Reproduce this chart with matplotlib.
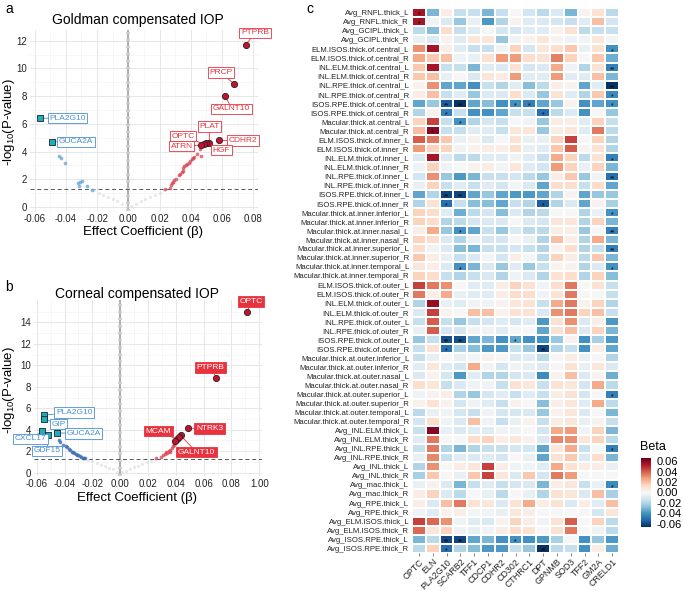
import numpy as np
import matplotlib
matplotlib.use('Agg')
import matplotlib.pyplot as plt

plt.rcParams['font.family'] = ['Liberation Sans', 'DejaVu Sans']
plt.rcParams['mathtext.fontset'] = 'custom'
plt.rcParams['mathtext.rm'] = 'Liberation Sans'
plt.rcParams['mathtext.it'] = 'Liberation Sans:italic'

# ---------------- Panel a data (Goldman compensated IOP) ----------------
a_pos_genes = ['PTPRB', 'PRCP', 'GALNT10', 'CDHR2', 'PLAT', 'HGF', 'OPTC', 'ATRN']
a_pos_beta = [0.0753, 0.0678, 0.0622, 0.0582, 0.0519, 0.0496, 0.0486, 0.0466]
a_pos_logp = [11.7, 8.87, 8.0, 4.81, 4.63, 4.63, 4.54, 4.45]
a_pos_tx = [0.0812, 0.0594, 0.0662, 0.0735, 0.052, 0.0597, 0.0351, 0.0341]
a_pos_ty = [12.56, 9.70, 7.09, 4.79, 5.8, 4.1, 5.12, 4.4]
a_neg_genes = ['PLA2G10', 'GUCA2A']
a_neg_beta = [-0.0566, -0.0487]
a_neg_logp = [6.4, 4.71]
a_neg_tx = [-0.039, -0.0335]
a_neg_ty = [6.42, 4.69]
a_up_beta = [0.0235, 0.0267, 0.0272, 0.0282, 0.0289, 0.0295, 0.0306, 0.0327, 0.0331, 0.0342,
             0.0349, 0.0353, 0.0359, 0.0370, 0.0378, 0.0387, 0.0396, 0.0406, 0.0415, 0.0421,
             0.0438, 0.0460, 0.0466]
a_up_logp = [1.29, 1.39, 1.56, 1.70, 1.82, 1.94, 2.01, 2.30, 2.38, 2.50,
             2.61, 2.79, 2.95, 3.03, 3.10, 3.19, 3.34, 3.44, 3.51, 3.63,
             3.82, 4.18, 3.68]
a_dn_beta = [-0.0442, -0.0433, -0.0404, -0.0321, -0.0310, -0.0299, -0.0318, -0.0267, -0.0235]
a_dn_logp = [3.67, 3.57, 3.16, 1.75, 1.82, 1.87, 1.50, 1.50, 1.26]
a_ns_beta = [-0.022, -0.019, -0.016, -0.013, -0.010, -0.007, -0.004, -0.001,
             0.002, 0.005, 0.008, 0.011, 0.014, 0.017, 0.020, 0.023]
a_ns_logp = [1.2, 1.0, 0.85, 0.7, 0.55, 0.4, 0.2, 0.05, 0.1, 0.25, 0.4, 0.55, 0.7, 0.85, 1.0, 1.2]

# ---------------- Panel b data (Corneal compensated IOP) ----------------
b_pos_genes = ['OPTC', 'PTPRB', 'NTRK3', 'MCAM', 'GALNT10']
b_pos_beta = [0.0911, 0.0691, 0.0487, 0.0408, 0.0434]
b_pos_logp = [14.93, 8.85, 4.13, 3.11, 3.48]
b_pos_tx = [0.0942, 0.0651, 0.0644, 0.0273, 0.055]
b_pos_ty = [15.94, 9.8, 4.12, 3.88, 1.9]
b_pos_other_beta = [0.0424, 0.0393]
b_pos_other_logp = [3.3, 2.98]
b_neg_genes = ['PLA2G10', 'GIP', 'GUCA2A', 'CXCL17', 'GDF15']
b_neg_beta = [-0.0549, -0.0549, -0.0453, -0.0559, -0.052]
b_neg_logp = [5.37, 5.0, 3.7, 3.85, 3.48]
b_neg_tx = [-0.0331, -0.0444, -0.0264, -0.0647, -0.0525]
b_neg_ty = [5.6, 4.53, 3.65, 3.14, 2.02]
b_up_beta = [0.026, 0.029, 0.031, 0.032, 0.034, 0.035, 0.036, 0.037, 0.038, 0.0385, 0.039, 0.040, 0.033, 0.036]
b_up_logp = [1.33, 1.45, 1.6, 1.75, 1.85, 2.0, 2.15, 2.3, 2.45, 2.6, 2.75, 2.85, 1.9, 1.95]
b_dn_beta = [-0.044, -0.043, -0.041, -0.039, -0.038, -0.036, -0.035, -0.034, -0.033, -0.031,
             -0.030, -0.029, -0.028, -0.027, -0.026, -0.025, -0.037, -0.032]
b_dn_logp = [3.0, 2.85, 2.6, 2.45, 2.35, 2.1, 1.95, 1.9, 1.8, 1.65,
             1.6, 1.55, 1.45, 1.4, 1.35, 1.33, 2.2, 1.75]
b_ns_beta = [-0.023, -0.020, -0.017, -0.014, -0.011, -0.008, -0.005, -0.002,
             0.001, 0.004, 0.007, 0.010, 0.013, 0.016, 0.019, 0.022, 0.025]
b_ns_logp = [1.2, 1.05, 0.9, 0.75, 0.6, 0.45, 0.3, 0.1, 0.05, 0.2, 0.35, 0.5, 0.65, 0.8, 0.95, 1.1, 1.25]

# ---------------- Panel c data (heatmap of Beta) ----------------
proteins = ['OPTC', 'ELN', 'PLA2G10', 'SCARB2', 'TFF1', 'CDCP1', 'CDHR2', 'CD302',
            'CTHRC1', 'DPT', 'GPNMB', 'SOD3', 'TFF2', 'GM2A', 'CRELD1']
traits = ['Avg_RNFL.thick_L', 'Avg_RNFL.thick_R', 'Avg_GCIPL.thick_L', 'Avg_GCIPL.thick_R',
          'ELM.ISOS.thick.of.central_L', 'ELM.ISOS.thick.of.central_R',
          'INL.ELM.thick.of.central_L', 'INL.ELM.thick.of.central_R',
          'INL.RPE.thick.of.central_L', 'INL.RPE.thick.of.central_R',
          'ISOS.RPE.thick.of.central_L', 'ISOS.RPE.thick.of.central_R',
          'Macular.thick.at.central_L', 'Macular.thick.at.central_R',
          'ELM.ISOS.thick.of.inner_L', 'ELM.ISOS.thick.of.inner_R',
          'INL.ELM.thick.of.inner_L', 'INL.ELM.thick.of.inner_R',
          'INL.RPE.thick.of.inner_L', 'INL.RPE.thick.of.inner_R',
          'ISOS.RPE.thick.of.inner_L', 'ISOS.RPE.thick.of.inner_R',
          'Macular.thick.at.inner.inferior_L', 'Macular.thick.at.inner.inferior_R',
          'Macular.thick.at.inner.nasal_L', 'Macular.thick.at.inner.nasal_R',
          'Macular.thick.at.inner.superior_L', 'Macular.thick.at.inner.superior_R',
          'Macular.thick.at.inner.temporal_L', 'Macular.thick.at.inner.temporal_R',
          'ELM.ISOS.thick.of.outer_L', 'ELM.ISOS.thick.of.outer_R',
          'INL.ELM.thick.of.outer_L', 'INL.ELM.thick.of.outer_R',
          'INL.RPE.thick.of.outer_L', 'INL.RPE.thick.of.outer_R',
          'ISOS.RPE.thick.of.outer_L', 'ISOS.RPE.thick.of.outer_R',
          'Macular.thick.at.outer.inferior_L', 'Macular.thick.at.outer.inferior_R',
          'Macular.thick.at.outer.nasal_L', 'Macular.thick.at.outer.nasal_R',
          'Macular.thick.at.outer.superior_L', 'Macular.thick.at.outer.superior_R',
          'Macular.thick.at.outer.temporal_L', 'Macular.thick.at.outer.temporal_R',
          'Avg_INL.ELM.thick_L', 'Avg_INL.ELM.thick_R', 'Avg_INL.RPE.thick_L', 'Avg_INL.RPE.thick_R',
          'Avg_INL.thick_L', 'Avg_INL.thick_R', 'Avg_mac.thick_L', 'Avg_mac.thick_R',
          'Avg_RPE.thick_L', 'Avg_RPE.thick_R', 'Avg_ELM.ISOS.thick_L', 'Avg_ELM.ISOS.thick_R',
          'Avg_ISOS.RPE.thick_L', 'Avg_ISOS.RPE.thick_R']

# Beta values x 100
beta_global_central = [
    [5.5, -3, 0.5, -1.5, -1.5, -3, -1.5, 0, -1.2, -1.8, -1, -3, 0.3, 1, -1.8],
    [5.5, -0.3, -1, -2.5, -0.5, -3.8, -2, 0.3, -0.8, -1, -1.2, -1.5, -0.8, 2, -1.2],
    [-1.8, -2.8, 1.2, -1.5, -0.8, 0, -1.2, -1.2, -0.8, -0.8, 0.3, 1, -1.8, -1.5, -1.5],
    [-0.5, -1, 0.3, -0.8, 0.8, 0.8, -2.5, -0.3, 0.3, 0.8, 0.2, -0.3, -0.3, 0.8, -0.2],
    [3, 5.5, 0.5, -0.8, -1.5, -1.5, -0.3, 1.5, -1.2, 0.8, 1.2, 1.8, -0.5, 1, -4],
    [2.5, 1.8, 2, -0.3, -0.5, 1, 2.8, 2.8, 1.2, 1, 3.3, 1.5, 0, 1.8, -3.2],
    [1.8, 5.5, -1.5, -1.5, -3, -0.8, -1, 1, -1.2, -1, 2.5, -0.3, -2, 1, -4.5],
    [1.8, 2, -0.5, 0, -1, 0.8, 0.6, 2.8, -0.8, -0.8, 2.8, -0.8, -0.8, 2, -3],
    [0.3, 3, -3.5, -3.5, -4, -1.5, -2, -0.8, -2.8, -1.8, 0.5, 0.2, -3.5, -0.8, -6.5],
    [0.5, 2, -1.5, -0.8, -2.5, -1, -1, 1.2, -1, -2.5, 1, -0.8, -2, 1.8, -4.2],
    [-3.5, -2.5, -5.5, -6.5, -3.5, -2.8, -4, -4, -4.5, -3.5, -2.5, 0.3, -4, -3.5, -4],
    [-2, 0.3, -4.5, -1.5, -4, -4, -3.5, -1.5, -1.5, -5, -1.8, -1, -4, 0, -2.5],
    [1.5, 4.5, -1.5, -4, -2, -1.2, -1.5, 0, -0.3, -2.5, 0.5, 0.5, -0.8, 1.5, -1.5],
    [2, 6, -1.5, -1.5, -0.8, -0.8, -1.5, 0.8, 0.8, -2.5, 0.5, 0.8, -0.8, 3.5, -1.8],
]
beta_inner = [
    [4, 3.5, 1.8, -0.5, 0.3, -1, 0, 1, -0.5, -0.5, 1.5, 4.5, 0, 1.5, -2],
    [2.8, 1.5, 1.5, -0.3, 0.3, 0.5, 0.5, 1.2, -0.5, -0.8, 1.8, 4, 0.2, 1, -2],
    [-1, 5.5, -1, -1.8, -1.8, -0.8, -0.8, -0.3, -0.8, -1.5, 2.5, 1.5, -1.8, 1, -4.5],
    [-0.3, 1.5, -0.3, 0, 0.3, 0.5, -0.2, 0.8, -0.8, -1.2, 2.8, 1.5, -0.5, 1.5, -3],
    [-1.2, 3, -2.5, -3.8, -3, -1.5, -1.5, -1.2, -1.8, -2.5, 0.5, 1.8, -2.5, -0.3, -5],
    [-0.5, 1.5, -1.5, -0.8, -1.5, -0.8, -1.2, -0.2, -1, -3.5, 1.2, 1.2, -1.5, 1.2, -3.5],
    [-3.5, -2, -6, -6, -3.5, -2.5, -3.5, -3.8, -3.8, -3.5, -2, 0.2, -3.5, -2.5, -2.5],
    [-2, 1, -5, -1.5, -2.8, -2.8, -3.5, -1.5, -2, -5.5, -2, -1, -3.5, 0.3, -2.2],
    [1.5, 1.2, -0.8, -3.2, -1.8, -1.2, -2.8, -1, -2, -1.8, 0, 0, -2, -0.5, -4],
    [1.5, 1.2, -2, -1.8, -1.2, -1, -1, 0, -1, -1.2, 0.8, 0.8, -2, 1.5, -3],
    [0.5, 2.5, -2.5, -4, -3.5, -1.5, -2.5, -1, -1.8, -1.8, 0.5, 0.5, -2.5, 0, -4.5],
    [1.5, 1.2, -1, -2, -0.5, -1.2, -1.2, 0, -0.5, -2, 2, 0.5, -2, 2.5, -3],
    [1.2, -0.3, -1, -2.8, -3, -1.5, -1.5, -1.2, -1.5, -2, 0.3, 1.2, -2, -1.5, -4.5],
    [1.8, 0.5, -0.5, -1.5, -1, -0.2, -1.2, 0.5, -0.2, -1.8, 1.5, 0.5, -1.8, 1.8, -3],
    [0.8, 0.5, -1, -4, -3, -1, -2.5, -0.8, -2.5, -1.5, 0.2, 0.3, -2, -1, -4],
    [1.5, 1.2, -1.5, -2, -1.5, -1, -2, -0.3, -1, -2, 1, 1.2, -2, 1.5, -2.8],
]
beta_outer = [
    [4.5, 3.5, 3, 0, -0.8, -0.8, 0.5, 1.5, 1, -0.3, 1.2, 3.5, 0, 1, -1.5],
    [3.5, 0.5, 2.5, -0.5, -0.8, -0.8, 0.5, 1.2, 1.2, -0.3, 1, 3.5, 0, 0, -1.5],
    [-2, 5.8, -0.5, -0.8, -0.3, -0.3, 0.3, 0.8, 1, -1.5, 2.5, 3.5, 0.3, 1.5, -2],
    [-1, 4.5, 0.3, 0, 2, 2, 0.3, 1, 1, -1, 3, 3.5, 1.5, 2, -1.5],
    [-1.5, 4, -1.5, -2.5, -1.5, -1.2, -0.8, -1.2, -0.8, -3.8, 1, 3, -1, 0.5, -3.8],
    [-0.5, 4, -1.2, -1.2, -0.3, -0.3, -0.8, 0, 0, -3.5, 1, 2, -1, 1.5, -3],
    [-2.5, -1.5, -5.8, -5.8, -3.5, -3, -4, -3.5, -4, -4, -2.5, 0.3, -4, -2.2, -3.8],
    [-1.5, 1, -5, -2.2, -2.8, -3.8, -3.8, -1.5, -2.5, -6, -2, -1.5, -4, 0.5, -3.5],
    [-1.5, -0.5, 0, -0.5, -0.2, 0.3, 0, -1, -0.8, -1.8, 0, 0.5, -0.5, 0, -2],
    [-0.8, 0.8, -0.8, -1.2, 2.5, -0.3, -1.2, -0.3, -0.5, -1, 0, 1, -0.5, 0.8, -1],
    [-1, 0.3, -1.2, -3.8, -0.8, -2, -2, -1.2, -1, -4.2, 0.3, 2, -1, 0.3, -3.2],
    [1.2, 0.8, -1.5, -1, -0.3, -0.3, -1.5, 1, 0.8, -1.5, 1, 0.8, -1.2, 2.5, -1.8],
    [-0.3, 0.3, 0.5, -2, -2.5, -1.2, -0.8, -1.5, -0.8, -1.5, 0.5, 1, -1.2, 0, -4.5],
    [0.3, 1, 0.3, -1.2, -0.3, -0.8, -1.5, 0.3, 0, -2.8, 0.5, 0.8, -0.8, 2.5, -1.8],
    [-1.8, -0.5, -0.3, -1.2, -1.5, -0.3, -1.2, -1.2, -1, -2.5, 0.3, 0.8, -1, 0, -3],
    [-1.2, 1.2, -0.3, -1, 2, -0.3, -1.5, -0.5, 0.3, -1.5, 0.5, 0.8, -0.5, 0.3, -1.5],
]
beta_average = [
    [-1.5, 6, -0.5, -1, -0.8, -0.8, -0.3, -0.3, 0, -1.2, 2.5, 2.8, -0.3, 1.5, -3],
    [-0.8, 3.5, 0, 0, 1.2, 1.5, 0.5, 0.8, 0.3, -1, 3.2, 3, 0.8, 1.5, -1.8],
    [-1.5, 3.5, -2, -3, -2, -1.5, -1.5, -1.2, -1.2, -3.5, 0.8, 2.5, -1.5, 0, -4.5],
    [-0.5, 3.2, -1.5, -0.8, -1, -0.8, -1.2, 0, -0.5, -3.5, 1, 1.8, -1, 1.2, -3],
    [-2, 3, 0, 0.5, 0.8, 4.5, 0.5, -0.3, -0.3, -0.8, 2.5, 1, 0.5, 0.5, -0.5],
    [-2.2, 1.8, 0, -0.5, 1.8, 4.5, 0.8, -1, 1.8, -1.2, 3.5, 2.8, 0, 0, 0],
    [-0.5, 0.3, -1, -3, -1.5, -0.8, -1.5, -1.2, -1, -3, 0.5, 0.8, -1.5, -0.5, -4.2],
    [0.5, 1.5, -1, -1.8, 0, -0.5, -1.8, 0, -0.5, -2, 1, 0.8, -1, 2, -2.2],
    [0.5, -1, 2, 3.5, 1, 0.8, -1, 1, 2.5, 0.5, 1, -1, 0.5, -0.8, 2],
    [-0.3, -0.8, 0.3, 0.5, -0.2, -0.3, -0.5, 0.8, 0.5, 0, 0, 0, 0, -1.2, 0.8],
    [4.5, 3.8, 3, -0.3, -0.8, -1, 0.3, 1.5, 0.5, -0.3, 1, 4, 0, 1.5, -1.8],
    [3.8, 0.8, 1.5, -0.3, -0.5, -0.3, 0.5, 1.2, 1, 0, 1, 3.5, 0, -0.3, -1.8],
    [-3, -1.8, -6, -6, -3.5, -3, -4, -4, -4, -3.8, -2.2, 0, -4, -2.5, -3.8],
    [-1.8, 1.5, -5, -2, -2.8, -3.8, -3.8, -1.5, -2.5, -6.5, -1.8, -1.5, -4, 0.5, -3.2],
]

# significance marks (row index, column index, text)
star_rows = [0, 1, 4, 6, 8, 9, 10, 10, 10, 10, 10, 11, 11, 12, 13, 16, 18, 20, 20, 21, 21,
             22, 24, 24, 26, 28, 28, 36, 36, 36, 37, 37, 42, 48, 52, 58, 58, 58, 59, 59]
star_cols = [0, 0, 14, 14, 14, 14, 2, 3, 7, 8, 14, 2, 9, 3, 1, 14, 14, 2, 3, 2, 9,
             14, 3, 14, 14, 3, 14, 2, 3, 7, 2, 9, 14, 14, 14, 2, 3, 7, 2, 9]
star_text = ['*', '*', '*', '**', '**', '*', '**', '**', '*', '*', '*', '*', '*', '*', '*', '*', '**', '**', '**', '*', '*',
             '*', '*', '**', '**', '*', '*', '**', '**', '*', '*', '**', '*', '*', '*', '**', '**', '*', '*', '**']

# ---------------- Figure ----------------
W, H = 683, 591
fig = plt.figure(figsize=(W / 100, H / 100), dpi=100)


def ax_px(l, t, r, b):
    return fig.add_axes([l / W, 1 - b / H, (r - l) / W, (b - t) / H])


RED_LAB = '#e8333f'
BLUE_LAB = '#4a8fd6'
RED_PT = '#c8102e'
SQ_FILL = '#1aafc0'


def style_volcano(ax, xticks, xticklabels, yticks):
    for s in ax.spines.values():
        s.set_visible(False)
    ax.set_xticks(xticks)
    ax.set_xticklabels(xticklabels)
    ax.set_yticks(yticks)
    ax.set_xticks([(xticks[i] + xticks[i + 1]) / 2 for i in range(len(xticks) - 1)], minor=True)
    ax.set_yticks([v + 1 for v in yticks], minor=True)
    ax.grid(which='major', color='#e3e3e3', lw=0.6)
    ax.grid(which='minor', color='#f1f1f1', lw=0.4)
    ax.tick_params(which='both', length=0, pad=2, labelsize=7, colors='#222222')
    ax.set_axisbelow(True)
    ax.axvline(0, color='#a8a8a8', lw=1.3, zorder=1)
    ax.axvline(0, color='#d0d0d0', lw=3.0, ls=(0, (0.5, 1.2)), zorder=1)
    ax.axhline(1.30103, color='#555555', lw=0.7, ls=(0, (4, 3)), zorder=1)


def label(ax, x, y, tx, ty, text, col, filled):
    ax.plot([x, tx], [y, ty], color=col, lw=0.6, zorder=2, clip_on=False)
    if filled:
        bbox = dict(boxstyle='square,pad=0.2', fc=col, ec=col, lw=0.6)
        tc = 'white'
    else:
        bbox = dict(boxstyle='square,pad=0.2', fc='white', ec=col, lw=0.6)
        tc = col
    ax.text(tx, ty, text, color=tc, fontsize=6, ha='center', va='center',
            bbox=bbox, zorder=5, clip_on=False)


# ---- Panel a ----
axa = ax_px(30, 30, 258, 211)
style_volcano(axa, [-0.06, -0.04, -0.02, 0.0, 0.02, 0.04, 0.06, 0.08],
              ['-0.06', '-0.04', '-0.02', '0.00', '0.02', '0.04', '0.06', '0.08'],
              [0, 2, 4, 6, 8, 10, 12])
axa.set_xlim(-0.063, 0.0831)
axa.set_ylim(-0.29, 12.77)
axa.scatter(a_ns_beta, a_ns_logp, s=5, color='#d9d9d9', alpha=0.6, lw=0, zorder=2)
axa.scatter(a_up_beta, a_up_logp, s=7, color='#d9434f', alpha=0.75, lw=0, zorder=3)
axa.scatter(a_dn_beta, a_dn_logp, s=7, color='#6aa6d6', alpha=0.8, lw=0, zorder=3)
for g, x, y, tx, ty in zip(a_pos_genes, a_pos_beta, a_pos_logp, a_pos_tx, a_pos_ty):
    label(axa, x, y, tx, ty, g, RED_LAB, False)
for g, x, y, tx, ty in zip(a_neg_genes, a_neg_beta, a_neg_logp, a_neg_tx, a_neg_ty):
    label(axa, x, y, tx, ty, g, BLUE_LAB, False)
axa.scatter(a_pos_beta, a_pos_logp, s=20, color=RED_PT, edgecolor='#222222', lw=0.6, zorder=4)
axa.scatter(a_neg_beta, a_neg_logp, s=18, marker='s', color=SQ_FILL, edgecolor='#222222', lw=0.6, zorder=4)

# ---- Panel b ----
axb = ax_px(34, 300, 262, 476)
style_volcano(axb, [-0.06, -0.04, -0.02, 0.0, 0.02, 0.04, 0.06, 0.08, 0.10],
              ['-0.06', '-0.04', '-0.02', '0.00', '0.02', '0.04', '0.06', '0.08', '1.00'],
              [0, 2, 4, 6, 8, 10, 12, 14])
axb.set_xlim(-0.062, 0.102)
axb.set_ylim(-0.31, 16.08)
axb.scatter(b_ns_beta, b_ns_logp, s=5, color='#d9d9d9', alpha=0.6, lw=0, zorder=2)
axb.scatter(b_up_beta, b_up_logp, s=7, color='#d9434f', alpha=0.75, lw=0, zorder=3)
axb.scatter(b_dn_beta, b_dn_logp, s=7, color='#3f6fb5', alpha=0.8, lw=0, zorder=3)
for g, x, y, tx, ty in zip(b_pos_genes, b_pos_beta, b_pos_logp, b_pos_tx, b_pos_ty):
    label(axb, x, y, tx, ty, g, RED_LAB, True)
for g, x, y, tx, ty in zip(b_neg_genes, b_neg_beta, b_neg_logp, b_neg_tx, b_neg_ty):
    label(axb, x, y, tx, ty, g, BLUE_LAB, False)
axb.scatter(b_pos_beta + b_pos_other_beta, b_pos_logp + b_pos_other_logp, s=20, color=RED_PT,
            edgecolor='#222222', lw=0.6, zorder=4)
axb.scatter(b_neg_beta, b_neg_logp, s=18, marker='s', color=SQ_FILL, edgecolor='#222222', lw=0.6, zorder=4)

# titles / axis labels / panel letters
fig.text(5 / W, 1 - 9 / H, 'a', fontsize=10, ha='left', va='center')
fig.text(5 / W, 1 - 287 / H, 'b', fontsize=10, ha='left', va='center')
fig.text(306 / W, 1 - 9 / H, 'c', fontsize=10, ha='left', va='center')
fig.text(138 / W, 1 - 20 / H, 'Goldman compensated IOP', fontsize=10, ha='center', va='center')
fig.text(137 / W, 1 - 294 / H, 'Corneal compensated IOP', fontsize=10, ha='center', va='center')
fig.text(9 / W, 1 - 122 / H, r'-log$_{10}$(P-value)', fontsize=9.5, rotation=90, ha='center', va='center')
fig.text(9 / W, 1 - 390 / H, r'-log$_{10}$(P-value)', fontsize=9.5, rotation=90, ha='center', va='center')
fig.text(143 / W, 1 - 232 / H, 'Effect Coefficient (β)', fontsize=9.5, ha='center', va='center')
fig.text(137 / W, 1 - 498 / H, 'Effect Coefficient (β)', fontsize=9.5, ha='center', va='center')

# ---- Panel c: heatmap ----
beta = np.array(beta_global_central + beta_inner + beta_outer + beta_average) / 100.0
axh = ax_px(412, 8, 619, 553)
mesh = axh.pcolormesh(np.arange(len(proteins) + 1), np.arange(len(traits) + 1), beta,
                      cmap='RdBu_r', vmin=-0.066, vmax=0.066, edgecolors='white', linewidth=0.25)
axh.set_xlim(0, len(proteins))
axh.set_ylim(len(traits), 0)
axh.set_yticks(np.arange(len(traits)) + 0.5)
axh.set_yticklabels(traits, fontsize=5.6, color='#222222')
axh.set_xticks(np.arange(len(proteins)) + 0.5)
axh.set_xticklabels(proteins, rotation=45, ha='right', rotation_mode='anchor', fontsize=6.4, color='#222222')
axh.tick_params(axis='y', length=0, pad=2)
axh.tick_params(axis='x', length=2, width=0.5, color='#555555', pad=1)
for s in axh.spines.values():
    s.set_visible(False)
for r, c, t in zip(star_rows, star_cols, star_text):
    axh.text(c + 0.5, r + 0.78, t, ha='center', va='center', fontsize=5, color='black')

cax = ax_px(641, 458, 651, 527)
cb = fig.colorbar(mesh, cax=cax, ticks=[-0.06, -0.04, -0.02, 0.0, 0.02, 0.04, 0.06])
cb.ax.set_yticklabels(['-0.06', '-0.04', '-0.02', '0.00', '0.02', '0.04', '0.06'])
cb.ax.tick_params(labelsize=8, length=2, color='white', pad=2)
cb.outline.set_visible(False)
fig.text(640 / W, 1 - 447 / H, 'Beta', fontsize=9, ha='left', va='center')

fig.savefig('out.png', dpi=100)
